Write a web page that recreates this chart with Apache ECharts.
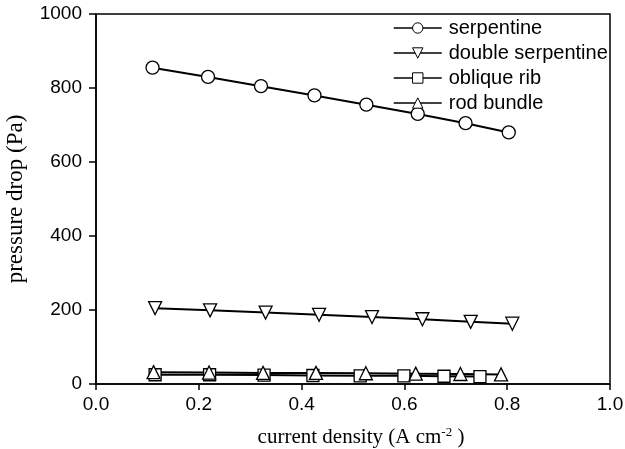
<!DOCTYPE html>
<html>
<head>
<meta charset="utf-8">
<script src="https://cdn.jsdelivr.net/npm/echarts@6/dist/echarts.min.js"></script>
<style>
  html, body { margin: 0; padding: 0; background: #fff; }
  #chart { width: 625px; height: 449px; }
</style>
</head>
<body>
<div id="chart"></div>
<script>
// values
const serpX = [0.11, 0.218, 0.321, 0.425, 0.526, 0.626, 0.719, 0.803];
const serpY = [855, 830, 805, 780, 755, 730, 705, 680];

const dblX = [0.115, 0.222, 0.33, 0.434, 0.537, 0.635, 0.729, 0.81];
const dblY = [205, 199, 193, 187, 181, 175, 168, 163];

const ribX = [0.115, 0.221, 0.327, 0.422, 0.514, 0.599, 0.677, 0.747];
const ribY = [25, 25, 24, 23, 22, 22, 21, 20];

const rodX = [0.112, 0.22, 0.325, 0.428, 0.525, 0.622, 0.709, 0.788];
const rodY = [32, 31, 30, 30, 29, 28, 27, 26];

const xTicks = [0, 0.2, 0.4, 0.6, 0.8, 1.0];

function pairs(xs, ys) {
  return xs.map((x, i) => [x, ys[i]]);
}

const chart = echarts.init(document.getElementById('chart'));

const lineSeries = (name, xs, ys, symbol, rotate, size) => ({
  name: name,
  type: 'line',
  data: pairs(xs, ys),
  symbol: symbol,
  symbolSize: size,
  symbolRotate: rotate,
  showAllSymbol: true,
  lineStyle: { color: '#000', width: 2 },
  itemStyle: { color: '#fff', borderColor: '#000', borderWidth: 1.3 },
  emphasis: { disabled: true },
  z: 3
});

chart.setOption({
  animation: false,
  grid: {
    left: 96, right: 15, top: 14, bottom: 65,
    outerBoundsMode: 'none',
    show: true, borderColor: '#000', borderWidth: 1.5, backgroundColor: 'transparent'
  },
  legend: {
    orient: 'vertical',
    left: 388,
    top: 13,
    itemWidth: 48,
    itemHeight: 13,
    itemGap: 5,
    itemStyle: { borderWidth: 1 },
    lineStyle: { width: 1.5 },
    textStyle: { fontFamily: 'Liberation Sans, Arial', fontSize: 20, color: '#000', padding: [0, 0, 0, 2] },
    data: ['serpentine', 'double serpentine', 'oblique rib', 'rod bundle']
  },
  xAxis: {
    type: 'value',
    min: 0, max: 1, interval: 0.2,
    name: 'current density (A cm{sup|-2} )',
    nameLocation: 'middle',
    nameGap: 42,
    nameTextStyle: {
      fontFamily: 'Liberation Serif, Times New Roman', fontSize: 21, color: '#000',
      padding: [0, 0, 0, 16],
      rich: { sup: { fontFamily: 'Liberation Serif', fontSize: 13, color: '#000', verticalAlign: 'top', padding: [0, 0, 10, 0] } }
    },
    axisLine: { lineStyle: { color: '#000', width: 1.5 } },
    axisTick: { show: true, inside: false, length: 6, lineStyle: { color: '#000', width: 1.5 } },
    axisLabel: {
      color: '#000', fontFamily: 'Liberation Sans, Arial', fontSize: 19, margin: 11,
      formatter: v => xTicks.some(t => Math.abs(t - v) < 1e-9) ? v.toFixed(1) : ''
    },
    splitLine: { show: false }
  },
  yAxis: {
    type: 'value',
    min: 0, max: 1000, interval: 200,
    name: 'pressure drop (Pa)',
    nameLocation: 'middle',
    nameGap: 69,
    nameTextStyle: { fontFamily: 'Liberation Serif, Times New Roman', fontSize: 23, color: '#000' },
    axisLine: { lineStyle: { color: '#000', width: 1.5 } },
    axisTick: { show: true, inside: false, length: 7, lineStyle: { color: '#000', width: 1.5 } },
    axisLabel: { color: '#000', fontFamily: 'Liberation Sans, Arial', fontSize: 19, margin: 14, formatter: v => String(v) },
    splitLine: { show: false }
  },
  series: [
    lineSeries('serpentine', serpX, serpY, 'circle', 0, 13),
    lineSeries('double serpentine', dblX, dblY, 'triangle', 180, 13),
    lineSeries('oblique rib', ribX, ribY, 'rect', 0, 12),
    lineSeries('rod bundle', rodX, rodY, 'triangle', 0, 13)
  ]
});
</script>
</body>
</html>
